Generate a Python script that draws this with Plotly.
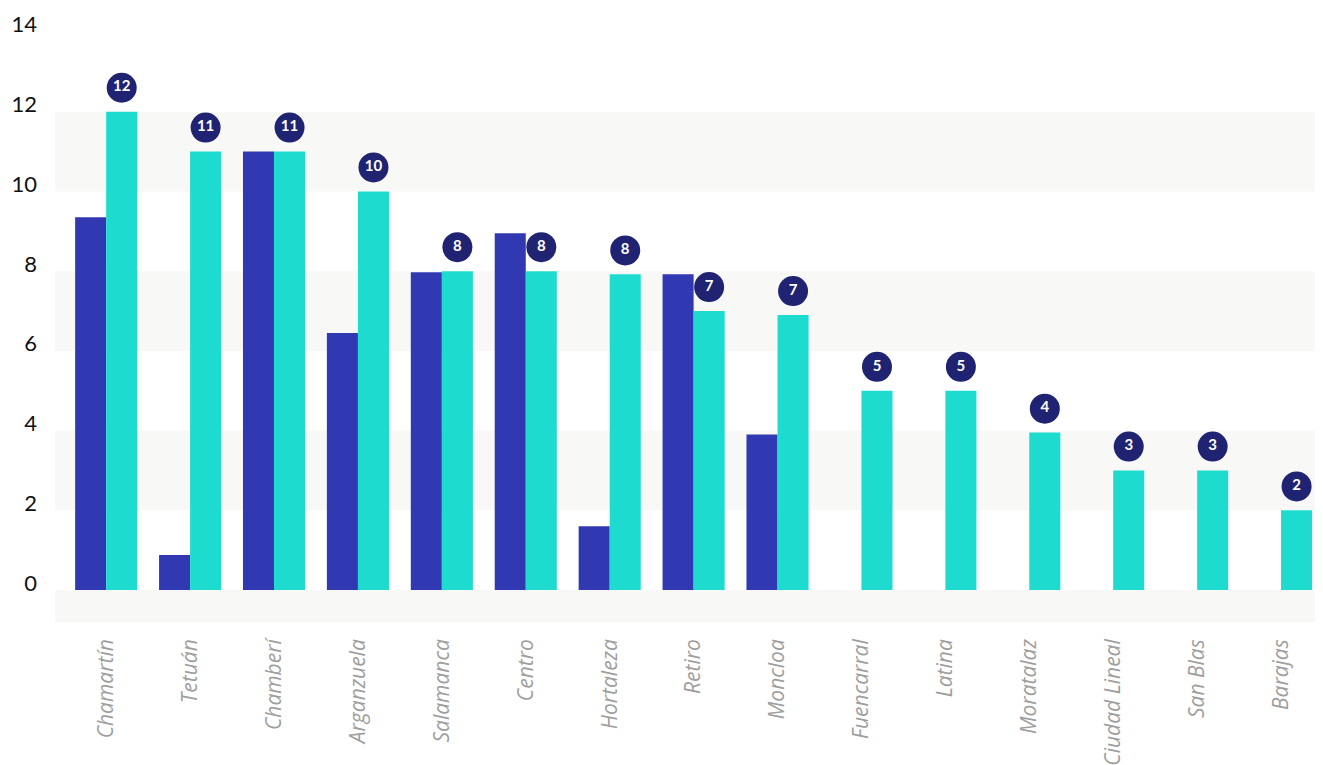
import plotly.graph_objects as go

categories = ["Chamartín", "Tetuán", "Chamberí", "Arganzuela", "Salamanca", "Centro",
              "Hortaleza", "Retiro", "Moncloa", "Fuencarral", "Latina", "Moratalaz",
              "Ciudad Lineal", "San Blas", "Barajas"]
series_prev = [9.35, 0.88, 11.0, 6.45, 7.97, 8.95, 1.6, 7.92, 3.9, None, None, None, None, None, None]
series_curr = [12.0, 11.0, 11.0, 10.0, 8.0, 8.0, 7.92, 7.0, 6.9, 5.0, 5.0, 3.95, 3.0, 3.0, 2.0]
label_text = ["12", "11", "11", "10", "8", "8", "8", "7", "7", "5", "5", "4", "3", "3", "2"]
y_ticks = [0, 2, 4, 6, 8, 10, 12, 14]
bands = [(-0.8, 0), (2, 4), (6, 8), (10, 12)]

BLUE = "#3139b2"
TEAL = "#1ddccf"
NAVY = "#1f2372"
FONT = "Lato"

x = list(range(len(categories)))
bw = 0.37
y_lo, y_hi = -0.8, 14.6
label_lift = 0.18  # tick labels sit slightly above their gridlines

fig = go.Figure()
fig.add_trace(go.Bar(x=x, y=series_prev, width=bw, offset=-bw, marker_color=BLUE,
                     marker_line_width=0, showlegend=False, hoverinfo="skip"))
fig.add_trace(go.Bar(x=x, y=series_curr, width=bw, offset=0, marker_color=TEAL,
                     marker_line_width=0, showlegend=False, hoverinfo="skip"))
fig.add_trace(go.Scatter(
    x=[i + bw / 2 for i in x], y=[v + 0.6 for v in series_curr],
    mode="markers+text", text=label_text, textposition="middle center",
    marker=dict(size=30, color=NAVY, line_width=0),
    textfont=dict(color="white", size=15, family=FONT, weight="bold"),
    showlegend=False, hoverinfo="skip", cliponaxis=False))
# invisible trace to carry the label axis
fig.add_trace(go.Scatter(x=[x[0]], y=[y_ticks[0]], yaxis="y2", mode="markers",
                         marker=dict(opacity=0), showlegend=False, hoverinfo="skip"))

for lo, hi in bands:
    fig.add_shape(type="rect", xref="paper", yref="y", x0=0, x1=1, y0=lo, y1=hi,
                  fillcolor="#f8f8f6", line_width=0, layer="below")

fig.update_layout(
    width=1315, height=757,
    margin=dict(l=47, r=0, t=0, b=143),
    plot_bgcolor="white", paper_bgcolor="white",
    bargap=0.26,
    font=dict(family=FONT),
    xaxis=dict(range=[-0.61, 14.5], tickvals=x, ticktext=categories, tickangle=-90,
               showgrid=False, zeroline=False, showline=False, ticks="", automargin=False,
               ticklabelstandoff=12,
               tickfont=dict(size=21, color="#9e9e9e", style="italic", family="Open Sans")),
    yaxis=dict(range=[y_lo, y_hi], showgrid=False, zeroline=False, showticklabels=False,
               showline=False, ticks="", automargin=False),
    yaxis2=dict(range=[y_lo - label_lift, y_hi - label_lift], overlaying="y", side="left",
                tickvals=y_ticks, showgrid=False, zeroline=False, showline=False,
                ticks="", automargin=False, ticklabelstandoff=17,
                tickfont=dict(size=22, color="#111111")),
)

fig.write_html("out.html")
